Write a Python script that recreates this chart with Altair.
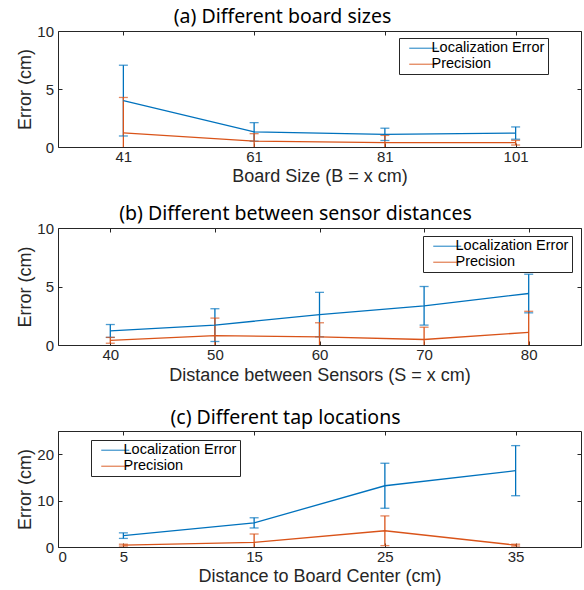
import altair as alt
import pandas as pd

BLUE = "#0072BD"
ORANGE = "#D95319"
INK = "#262626"
series_names = ["Localization Error", "Precision"]

# (a) Different board sizes
a_x = [41, 61, 81, 101]
a_loc = [4.0, 1.3, 1.09, 1.2]
a_loc_sd = [3.05, 0.8, 0.53, 0.53]
a_prec = [1.22, 0.5, 0.37, 0.37]
a_prec_sd = [3.05, 0.65, 0.63, 0.2]

# (b) Different between sensor distances
b_x = [40, 50, 60, 70, 80]
b_loc = [1.2, 1.7, 2.6, 3.35, 4.4]
b_loc_sd = [0.55, 1.4, 1.9, 1.65, 1.65]
b_prec = [0.4, 0.8, 0.7, 0.47, 1.08]
b_prec_sd = [0.25, 1.5, 1.2, 1.05, 1.8]

# (c) Different tap locations
c_x = [5, 15, 25, 35]
c_loc = [2.45, 5.2, 13.2, 16.45]
c_loc_sd = [0.6, 1.1, 4.85, 5.4]
c_prec = [0.4, 1.0, 3.5, 0.4]
c_prec_sd = [0.2, 1.8, 3.2, 0.2]

a_xticks = [41, 61, 81, 101]
b_xticks = [40, 50, 60, 70, 80]
c_xticks = [0, 5, 15, 25, 35]
ab_yticks = [0, 5, 10]
c_yticks = [0, 10, 20]


def make_df(xs, loc, loc_sd, prec, prec_sd):
    rows = []
    for name, m, s in ((series_names[0], loc, loc_sd), (series_names[1], prec, prec_sd)):
        for x, mv, sv in zip(xs, m, s):
            rows.append({"x": x, "series": name, "mean": mv, "lo": mv - sv, "hi": mv + sv})
    return pd.DataFrame(rows)


def panel(df, title, dx, xdomain, xticks, ydomain, yticks, xtitle, lx, ly, height,
          toff, xtp, spacer=None):
    xs = alt.Scale(domain=xdomain, nice=False, zero=False)
    ys = alt.Scale(domain=ydomain, nice=False, zero=False)
    cscale = alt.Scale(domain=series_names, range=[BLUE, ORANGE])
    legend = alt.Legend(
        title=None, orient="none", legendX=lx, legendY=ly,
        symbolType="M0,0H8", symbolSize=49, symbolStrokeWidth=1.3,
        labelFont="Liberation Sans", labelFontSize=14.5, labelColor="black",
        labelOffset=15, strokeColor=INK, fillColor="white", padding=3,
        rowPadding=1, cornerRadius=0, direction="vertical",
    )
    color = alt.Color("series:N", scale=cscale, legend=legend)
    base = alt.Chart(df)
    x_noaxis = alt.X("x:Q", scale=xs, axis=None)

    bars = base.mark_rule(strokeWidth=1.3, clip=True).encode(
        x=x_noaxis, y=alt.Y("lo:Q", scale=ys, axis=None), y2="hi:Q", color=color)
    cap_lo = base.mark_tick(orient="horizontal", size=9, thickness=1.3, clip=True).encode(
        x=x_noaxis, y=alt.Y("lo:Q", scale=ys, axis=None), color=color)
    cap_hi = base.mark_tick(orient="horizontal", size=9, thickness=1.3, clip=True).encode(
        x=x_noaxis, y=alt.Y("hi:Q", scale=ys, axis=None), color=color)
    line = base.mark_line(strokeWidth=1.3, clip=True).encode(
        x=alt.X("x:Q", scale=xs, title=xtitle,
                axis=alt.Axis(values=xticks, orient="bottom", offset=-4, tickSize=4,
                              labelPadding=2, titlePadding=xtp, format="d")),
        y=alt.Y("mean:Q", scale=ys, title="Error (cm)",
                axis=alt.Axis(values=yticks, orient="left", offset=-4, tickSize=4,
                              labelPadding=4.5, titlePadding=2, format="d")),
        color=color)
    mirror = base.mark_line(opacity=0).encode(
        x=alt.X("x:Q", scale=xs, title=None,
                axis=alt.Axis(values=xticks, orient="top", offset=-4, tickSize=4, labels=False)),
        y=alt.Y("mean:Q", scale=ys, title=None,
                axis=alt.Axis(values=yticks, orient="right", offset=-4, tickSize=4, labels=False)),
        detail="series:N")
    layers = [bars, cap_lo, cap_hi, line, mirror]
    if spacer is not None:
        # blank bottom axis that only reserves vertical room below this panel
        layers.append(base.mark_line(opacity=0).encode(
            x=alt.X("x:Q", scale=xs, title=None,
                    axis=alt.Axis(values=[xticks[2]], orient="bottom", offset=spacer,
                                  ticks=False, labelPadding=0, labelExpr="' '")),
            y=alt.Y("mean:Q", scale=ys, axis=None),
            detail="series:N"))
    return alt.layer(*layers).resolve_axis(
        x="independent", y="independent"
    ).properties(
        width=523, height=height,
        title=alt.TitleParams(title, font="Noto Sans", fontSize=19.5, fontWeight="normal",
                              color="black", anchor="middle", frame="group",
                              baseline="alphabetic", offset=toff, dx=dx),
    )


pa = panel(make_df(a_x, a_loc, a_loc_sd, a_prec, a_prec_sd), "(a) Different board sizes", -37,
           [31, 111], a_xticks, [0, 10], ab_yticks, "Board Size (B = x cm)", 341, 7, 116, -18, 3)
pb = panel(make_df(b_x, b_loc, b_loc_sd, b_prec, b_prec_sd), "(b) Different between sensor distances", -24,
           [35, 85], b_xticks, [0, 10], ab_yticks, "Distance between Sensors (S = x cm)", 365, 8, 117, -18, 4,
           spacer=29)
pc = panel(make_df(c_x, c_loc, c_loc_sd, c_prec, c_prec_sd), "(c) Different tap locations", -34,
           [0, 40], c_xticks, [0, 25], c_yticks, "Distance to Board Center (cm)", 33, 9, 116, -12.5, 3)

chart = alt.vconcat(pa, pb, pc, spacing=17).resolve_scale(color="independent").resolve_legend(color="independent").properties(
    padding={"left": 16, "top": 6, "right": 0, "bottom": 0},
    background="white",
).configure_view(stroke=INK, strokeWidth=1).configure_axis(
    grid=False, domain=False, labelFont="Liberation Sans", labelFontSize=15,
    labelColor=INK, titleFont="Liberation Sans", titleFontSize=18, titleFontWeight="normal",
    titleColor=INK, tickColor=INK, tickWidth=1,
)

chart.save("out.html", embed_options={"renderer": "svg", "actions": False})
